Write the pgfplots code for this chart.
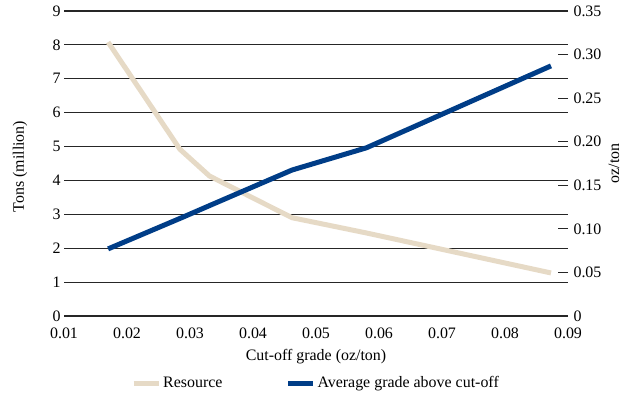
\documentclass[border=0pt]{standalone}
\usepackage{pgfplots}
\pgfplotsset{compat=1.18}
\usepackage{fontspec}
\setmainfont{Liberation Serif}
\definecolor{beige}{RGB}{230,218,198}
\definecolor{navy}{RGB}{0,61,135}
\newcommand\f{\fontsize{16}{18}\selectfont}
\begin{document}
\begin{tikzpicture}
\pgfplotsset{
  base/.style={
    scale only axis, width=504bp, height=305bp,
    xmin=0.01, xmax=0.09,
    /pgf/number format/assume math mode=true,
    tick label style={font=\f},
    label style={font=\f},
    axis line style={draw=none},
  }
}
\begin{axis}[base, name=ax,
  ymin=0, ymax=9, ytick={0,1,...,9},
  xtick={0.01,0.02,...,0.09},
  scaled x ticks=false,
  xticklabels={0.01,0.02,0.03,0.04,0.05,0.06,0.07,0.08,0.09},
  x tick label style={yshift=-8bp},
  major tick length=0pt,
  ymajorgrids, major grid style={black!85, line width=1.1bp},
  xlabel={Cut-off grade (oz/ton)},
  xlabel style={at={(axis description cs:0.5,-0.134)}, anchor=center},
  ylabel={Tons (million)},
  ylabel style={at={(axis description cs:-0.087,0.49)}, anchor=center},
]
\addplot[beige, line width=5bp] coordinates {
 (0.0170,8.08) (0.0284,4.92) (0.0331,4.13) (0.0462,2.90) (0.058,2.45) (0.0873,1.27)};
\end{axis}
\begin{axis}[base,
  hide x axis,
  axis y line*=right,
  ymin=0, ymax=0.35,
  ytick={0,0.05,0.10,0.15,0.20,0.25,0.30,0.35},
  yticklabels={0,0.05,0.10,0.15,0.20,0.25,0.30,0.35},
  y tick label style={xshift=2bp},
  tick align=inside, major tick length=10bp,
  tick style={black!85, line width=1.1bp},
  extra description/.code={\node[rotate=90, font=\f, anchor=center] at (axis description cs:1.091,0.5) {oz/ton};},
  legend columns=2,
  legend style={draw=none, fill=none, font=\f, at={(axis description cs:0.5,-0.22)}, anchor=center,
    /tikz/every even column/.append style={column sep=61bp}},
  legend image code/.code={\draw[#1] (0bp,0bp) -- (25bp,0bp);},
]
\addlegendimage{beige, line width=5bp}
\addlegendentry{Resource}
\addplot[navy, line width=5bp] coordinates {
 (0.0170,0.077) (0.0289,0.1135) (0.0332,0.127) (0.0462,0.1675) (0.058,0.193) (0.0873,0.287)};
\addlegendentry{Average grade above cut-off}
\end{axis}
\pgfresetboundingbox
\path[use as bounding box] ([shift={(-64bp,-85bp)}]ax.south west) rectangle ([shift={(64bp,11bp)}]ax.north east);
\end{tikzpicture}
\end{document}
